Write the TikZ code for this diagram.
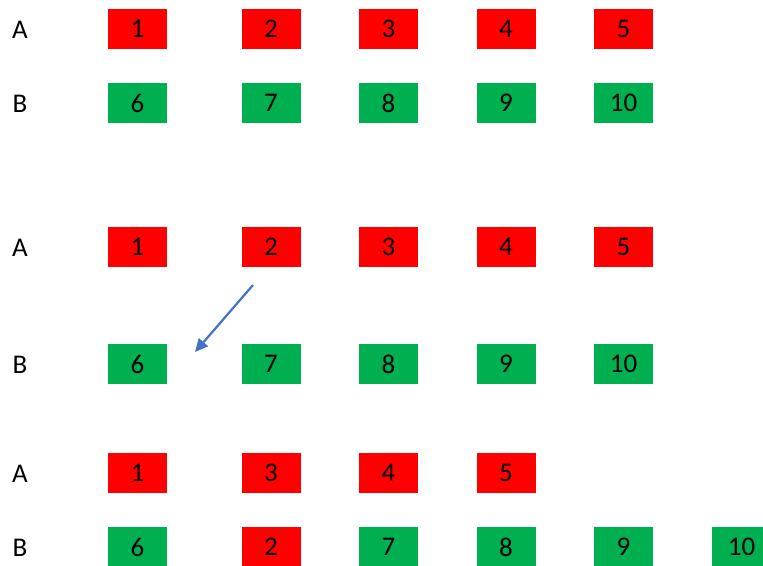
\documentclass[tikz,border=0pt]{standalone}
\usepackage{fontspec}
\setmainfont{Carlito}
\usetikzlibrary{arrows.meta}
\definecolor{rbox}{HTML}{FF0000}
\definecolor{gbox}{HTML}{00B050}
\definecolor{arr}{HTML}{4472C4}
\begin{document}
\begin{tikzpicture}[x=1pt,y=-1pt,
  cell/.style={minimum width=59pt,minimum height=40pt,inner sep=0pt,font=\fontsize{27}{27}\selectfont},
  red/.style={cell,fill=rbox},
  green/.style={cell,fill=gbox},
  lab/.style={font=\fontsize{27}{27}\selectfont,inner sep=0pt}]
\useasboundingbox (0,0) rectangle (763,565);
\clip (0,0) rectangle (763,565);
% row labels
\node[lab] (l1) at (20,30) {A};
\node[lab] (l2) at (20,104) {B};
\node[lab] (l3) at (20,248) {A};
\node[lab] (l4) at (20,365) {B};
\node[lab] (l5) at (20,474) {A};
\node[lab] (l6) at (20,548) {B};
% block 1
\node[red] (a1) at (137.5,29) {1};
\node[red] (a2) at (271,29) {2};
\node[red] (a3) at (388.5,29) {3};
\node[red] (a4) at (506,29) {4};
\node[red] (a5) at (623.5,29) {5};
\node[green] (b6) at (137.5,103) {6};
\node[green] (b7) at (271,103) {7};
\node[green] (b8) at (388.5,103) {8};
\node[green] (b9) at (506,103) {9};
\node[green] (b10) at (623.5,103) {10};
% block 2
\node[red] (c1) at (137.5,247) {1};
\node[red] (c2) at (271,247) {2};
\node[red] (c3) at (388.5,247) {3};
\node[red] (c4) at (506,247) {4};
\node[red] (c5) at (623.5,247) {5};
\node[green] (d6) at (137.5,364) {6};
\node[green] (d7) at (271,364) {7};
\node[green] (d8) at (388.5,364) {8};
\node[green] (d9) at (506,364) {9};
\node[green] (d10) at (623.5,364) {10};
\coordinate (s) at (253,285);
\coordinate (t) at (195,352);
\draw[arr,line width=2.2pt,-{Triangle[length=13pt,width=12pt]}] (s) -- (t);
% block 3
\node[red] (e1) at (137.5,473) {1};
\node[red] (e3) at (271,473) {3};
\node[red] (e4) at (388.5,473) {4};
\node[red] (e5) at (506,473) {5};
\node[green] (f6) at (137.5,547) {6};
\node[red] (f2) at (271,547) {2};
\node[green] (f7) at (388.5,547) {7};
\node[green] (f8) at (506,547) {8};
\node[green] (f9) at (623.5,547) {9};
\node[green] (f10) at (741.5,547) {10};
\end{tikzpicture}
\end{document}
